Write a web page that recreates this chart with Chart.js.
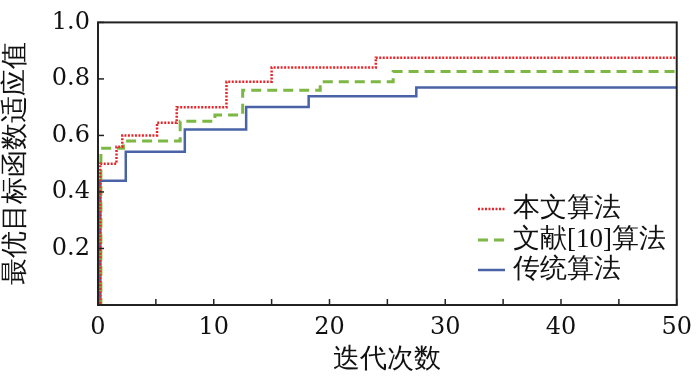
<!DOCTYPE html>
<html>
<head>
<meta charset="utf-8">
<script src="https://cdn.jsdelivr.net/npm/chart.js@4/dist/chart.umd.min.js"></script>
<style>
  html, body { margin: 0; padding: 0; background: #fff; }
  #wrap { width: 700px; height: 380px; position: relative; }
</style>
</head>
<body>
<div id="wrap"><canvas id="chart" width="700" height="380"></canvas></div>
<script>
  // step positions (iteration) and fitness values
  const oursX = [0, 0.2, 1.6, 2.1, 5.1, 6.8, 11.1, 15.0, 24.0, 50];
  const oursY = [0, 0.50, 0.56, 0.60, 0.645, 0.70, 0.79, 0.84, 0.875, 0.875];
  const refX = [0, 0.25, 2.2, 7.1, 10.1, 12.5, 19.2, 25.5, 50];
  const refY = [0, 0.555, 0.58, 0.65, 0.672, 0.76, 0.79, 0.826, 0.826];
  const tradX = [0, 0.2, 2.4, 7.5, 12.8, 18.2, 27.5, 50];
  const tradY = [0, 0.44, 0.542, 0.621, 0.701, 0.739, 0.77, 0.77];

  const seriesNames = ['本文算法', '文献[10]算法', '传统算法'];
  const xTitle = '迭代次数';
  const yTitle = '最优目标函数适应值';

  const FONT = "'DejaVu Serif', serif";
  const CJK_FONT = 'serif';

  const toPoints = (xs, ys) => xs.map((x, i) => ({ x, y: ys[i] }));

  // frame box + inward tick marks
  const framePlugin = {
    id: 'frame',
    afterDatasetsDraw(chart) {
      const { ctx, chartArea: a, scales } = chart;
      ctx.save();
      ctx.strokeStyle = '#222';
      ctx.lineWidth = 1.5;
      scales.x.ticks.forEach((t) => {
        const px = scales.x.getPixelForValue(t.value);
        ctx.beginPath();
        ctx.moveTo(px, a.bottom);
        ctx.lineTo(px, a.bottom - 6);
        ctx.stroke();
      });
      scales.y.ticks.forEach((t) => {
        const py = scales.y.getPixelForValue(t.value);
        ctx.beginPath();
        ctx.moveTo(a.left, py);
        ctx.lineTo(a.left + 6, py);
        ctx.stroke();
      });
      ctx.lineWidth = 2;
      ctx.strokeRect(a.left, a.top, a.right - a.left, a.bottom - a.top);
      ctx.restore();
    }
  };

  // legend inside the plot, lower right
  const legendPlugin = {
    id: 'innerLegend',
    afterDraw(chart) {
      const { ctx } = chart;
      const rows = [209, 240, 270];
      ctx.save();
      ctx.font = '27px ' + CJK_FONT;
      ctx.textBaseline = 'middle';
      ctx.fillStyle = '#111';
      chart.data.datasets.forEach((ds, i) => {
        const y = rows[i];
        ctx.strokeStyle = ds.borderColor;
        ctx.lineWidth = ds.borderWidth;
        ctx.setLineDash(ds.borderDash || []);
        ctx.beginPath();
        ctx.moveTo(478, y);
        ctx.lineTo(505, y);
        ctx.stroke();
        ctx.setLineDash([]);
        ctx.fillText(ds.label, 513, y);
      });
      ctx.restore();
    }
  };

  new Chart(document.getElementById('chart'), {
    type: 'line',
    data: {
      datasets: [
        {
          label: seriesNames[0],
          data: toPoints(oursX, oursY),
          borderColor: '#e8262a',
          borderWidth: 2.5,
          borderDash: [2, 1.5],
          stepped: 'before'
        },
        {
          label: seriesNames[1],
          data: toPoints(refX, refY),
          borderColor: '#7cb843',
          borderWidth: 3,
          borderDash: [10, 6],
          stepped: 'before'
        },
        {
          label: seriesNames[2],
          data: toPoints(tradX, tradY),
          borderColor: '#4a63a6',
          borderWidth: 2.5,
          stepped: 'before'
        }
      ]
    },
    options: {
      responsive: false,
      animation: false,
      layout: { padding: { top: 15, right: 14, left: 0, bottom: 0 } },
      elements: { point: { radius: 0 } },
      plugins: { legend: { display: false }, tooltip: { enabled: false } },
      scales: {
        x: {
          type: 'linear',
          min: 0,
          max: 50,
          afterFit: (s) => { s.height = 75; },
          grid: { drawOnChartArea: false, drawTicks: false },
          border: { display: false },
          ticks: {
            stepSize: 5,
            padding: 8,
            maxRotation: 0,
            color: '#111',
            font: { family: FONT, size: 24 },
            callback: (v) => (v % 10 === 0 ? String(v) : '')
          },
          title: {
            display: true,
            text: xTitle,
            color: '#111',
            padding: { top: 2 },
            font: { family: CJK_FONT, size: 27 }
          }
        },
        y: {
          min: 0,
          max: 1,
          afterFit: (s) => { s.width = 98; },
          grid: { drawOnChartArea: false, drawTicks: false },
          border: { display: false },
          ticks: {
            stepSize: 0.1,
            padding: 8,
            color: '#111',
            font: { family: FONT, size: 24 },
            callback: (v) => {
              const k = Math.round(v * 10);
              return k > 0 && k % 2 === 0 ? (k / 10).toFixed(1) : '';
            }
          },
          title: {
            display: true,
            text: yTitle,
            color: '#111',
            padding: { top: 0, bottom: 0 },
            font: { family: CJK_FONT, size: 27 }
          }
        }
      }
    },
    plugins: [framePlugin, legendPlugin]
  });
</script>
</body>
</html>
